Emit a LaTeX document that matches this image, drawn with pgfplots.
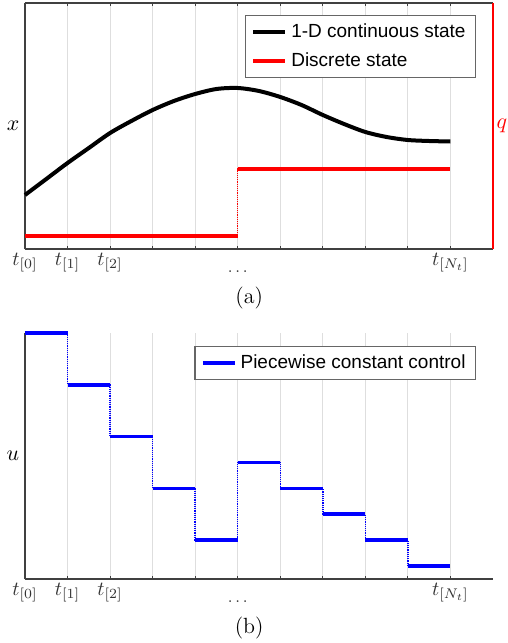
\documentclass[border=0pt]{standalone}
\usepackage{pgfplots}
\pgfplotsset{compat=1.18}
\usepackage{fontspec}
\newfontfamily\arial{Liberation Sans}
\definecolor{axgray}{RGB}{64,64,64}
\definecolor{gridgray}{RGB}{222,222,222}
\begin{document}
\begin{tikzpicture}
\pgfplotsset{
  common/.style={
    scale only axis, width=234pt, height=123pt,
    xmin=0, xmax=11,
    xtick={0,...,10},
    xticklabels={$t_{[0]}$,$t_{[1]}$,$t_{[2]}$,,,\raisebox{-3.5pt}{\fontsize{8.5}{9}\selectfont$\ldots$},,,,,$t_{[N_t]}$},
    xticklabel style={anchor=base, yshift=-8pt, text=black!80},
    ytick=\empty,
    xmajorgrids, grid style={gridgray, line width=0.5pt},
    tick align=inside, major tick length=1.75pt,
    tick style={axgray, line width=0.5pt},
    axis line style={axgray, line width=0.6pt, -},
    every axis x label/.style={at={(axis description cs:0.479,0)}, anchor=center, yshift=-24.5pt, font=\fontsize{11}{13}\selectfont},
    every axis y label/.style={at={(axis description cs:-0.0256,0.5)}, anchor=center, font=\fontsize{11}{13}\selectfont},
    legend style={anchor=north east, draw=black!60, line width=0.6pt,
      font=\arial\fontsize{9.5}{11}\selectfont, inner xsep=3pt, inner ysep=2pt,
      row sep=2pt, cells={anchor=west}},
    legend image code/.code={\draw[#1] (0pt,0pt) -- (16pt,0pt);},
  }
}
% ---------- (a) ----------
\begin{axis}[common, name=top,
  axis x line*=box, axis y line*=left,
  ymin=0, ymax=246, clip=false,
  xlabel={(a)}, ylabel={$x$},
  legend style={at={(0.964,0.951)}}]
\addplot[black, line width=2pt, smooth] coordinates {
(0,54)(0.5,70)(1,86)(1.5,101)(2,116)(2.5,128)(3,139)(3.5,148)(4,155)(4.5,160)
(5,161)(5.5,158)(6,152)(6.5,144)(7,134)(7.5,125)(8,117)(8.5,112)(9,109)(9.5,108)(10,107.5)};
\addlegendentry{1-D continuous state}
\addplot[red, line width=0.7pt, dash pattern=on 0.6pt off 0.5pt, const plot, forget plot] coordinates {(0,13)(5,80)(10,80)};
\addplot[red, line width=1.8pt, jump mark left] coordinates {(0,13)(5,80)(10,80)};
\addlegendentry{Discrete state}
\end{axis}
\begin{axis}[scale only axis, width=234pt, height=123pt,
  xmin=0, xmax=11, ymin=0, ymax=1,
  axis x line=none, axis y line*=right, ytick=\empty, xtick=\empty,
  y axis line style={red, line width=0.6pt, -},
  every axis y label/.style={at={(axis description cs:1.019,0.5)}, anchor=center, font=\fontsize{11}{13}\selectfont, text=red},
  ylabel={$q$}]
\addplot[draw=none] coordinates {(0,0)};
\end{axis}
% ---------- (b) ----------
\begin{axis}[common, at={(0,-165pt)},
  axis x line*=bottom, axis y line*=left,
  ymin=0, ymax=9.5, clip=false,
  xlabel={(b)}, ylabel={$u$},
  legend style={at={(0.964,0.947)}}]
\addplot[blue, line width=0.7pt, dash pattern=on 0.6pt off 0.5pt, const plot, forget plot] coordinates {
(0,9.5)(1,7.5)(2,5.5)(3,3.5)(4,1.5)(5,4.5)(6,3.5)(7,2.5)(8,1.5)(9,0.5)(10,0.5)};
\addplot[blue, line width=1.8pt, jump mark left] coordinates {
(0,9.5)(1,7.5)(2,5.5)(3,3.5)(4,1.5)(5,4.5)(6,3.5)(7,2.5)(8,1.5)(9,0.5)(10,0.5)};
\addlegendentry{Piecewise constant control}
\end{axis}
\pgfresetboundingbox
\path (-12.5pt,124.5pt) rectangle (241.5pt,-197pt);
\end{tikzpicture}
\end{document}
